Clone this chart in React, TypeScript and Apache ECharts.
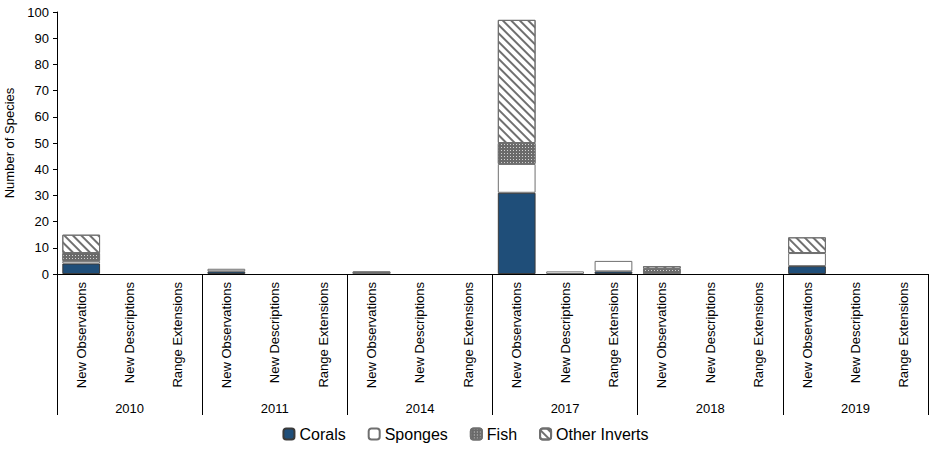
import React, { useEffect, useRef } from "react";
import * as echarts from "echarts";

const years = ["2010", "2011", "2014", "2017", "2018", "2019"];
const subCats = ["New Observations", "New Descriptions", "Range Extensions"];
const categories: string[] = years.flatMap(() => subCats);

// order: for each year -> New Observations, New Descriptions, Range Extensions
const corals = [4, 0, 0, 1, 0, 0, 0, 0, 0, 31, 0, 1, 0, 0, 0, 3, 0, 0];
const sponges = [1, 0, 0, 1, 0, 0, 0, 0, 0, 11, 1, 4, 0, 0, 0, 5, 0, 0];
const fish = [3, 0, 0, 0, 0, 0, 1, 0, 0, 8, 0, 0, 2, 0, 0, 0, 0, 0];
const otherInverts = [7, 0, 0, 0, 0, 0, 0, 0, 0, 47, 0, 0, 1, 0, 0, 6, 0, 0];

const yTicks = { min: 0, max: 100, interval: 10 };

const nz = (arr: number[]) => arr.map((v) => (v === 0 ? null : v));

export default function App() {
  const ref = useRef<HTMLDivElement>(null);
  useEffect(() => {
    if (!ref.current) return;
    const chart = echarts.init(ref.current, undefined, { renderer: "svg" });
    const font = "Liberation Sans, Arial, sans-serif";
    const border = { borderColor: "#6f6f6f", borderWidth: 1 };
    chart.setOption({
      animation: false,
      textStyle: { fontFamily: font },
      grid: {
        left: 57,
        top: 12,
        right: 3,
        bottom: 180,
        containLabel: false,
        outerBoundsMode: "none",
      },
      legend: {
        bottom: 7,
        left: "center",
        itemWidth: 11,
        itemHeight: 11,
        itemGap: 22,
        textStyle: { fontSize: 16, color: "#000", fontFamily: font },
        data: ["Corals", "Sponges", "Fish", "Other Inverts"],
      },
      xAxis: [
        {
          type: "category",
          data: categories,
          position: "bottom",
          axisLine: { lineStyle: { color: "#000", width: 1 } },
          axisTick: { show: false },
          axisLabel: {
            rotate: 90,
            interval: 0,
            margin: 8,
            fontSize: 13,
            color: "#000",
            fontFamily: font,
          },
        },
        {
          type: "category",
          data: years,
          position: "bottom",
          axisLine: { show: false },
          axisTick: { show: true, length: 141, lineStyle: { color: "#000", width: 1 } },
          axisLabel: { margin: 128, fontSize: 13, color: "#000", fontFamily: font },
        },
      ],
      yAxis: {
        type: "value",
        min: yTicks.min,
        max: yTicks.max,
        interval: yTicks.interval,
        name: "Number of Species",
        nameLocation: "middle",
        nameGap: 32,
        nameTextStyle: { fontSize: 13, color: "#000", fontFamily: font },
        axisLine: { show: true, lineStyle: { color: "#000" } },
        axisTick: { show: true, length: 4, lineStyle: { color: "#000" } },
        splitLine: { show: false },
        axisLabel: { fontSize: 13, color: "#000", margin: 8, fontFamily: font },
      },
      series: [
        {
          name: "Corals",
          type: "bar",
          stack: "s",
          data: nz(corals),
          barCategoryGap: "22%",
          itemStyle: { color: "#1f4e79", borderColor: "#3a3a3a", borderWidth: 1 },
        },
        {
          name: "Sponges",
          type: "bar",
          stack: "s",
          data: nz(sponges),
          itemStyle: { color: "#ffffff", ...border },
        },
        {
          name: "Fish",
          type: "bar",
          stack: "s",
          data: nz(fish),
          itemStyle: {
            color: "#6a6a6a",
            ...border,
            decal: {
              symbol: "rect",
              symbolSize: 1,
              dashArrayX: [1, 2],
              dashArrayY: [1, 2],
              color: "#d4d4d4",
              backgroundColor: "#5e5e5e",
            },
          },
        },
        {
          name: "Other Inverts",
          type: "bar",
          stack: "s",
          data: nz(otherInverts),
          itemStyle: {
            color: "#ffffff",
            ...border,
            decal: {
              symbol: "rect",
              symbolSize: 1,
              dashArrayX: [1, 0],
              dashArrayY: [1.5, 4],
              rotation: Math.PI / 4,
              color: "#707070",
              backgroundColor: "#ffffff",
            },
          },
        },
      ],
    });
    return () => chart.dispose();
  }, []);
  return <div ref={ref} style={{ width: 931, height: 454, position: "absolute", left: 0, top: 0 }} />;
}
